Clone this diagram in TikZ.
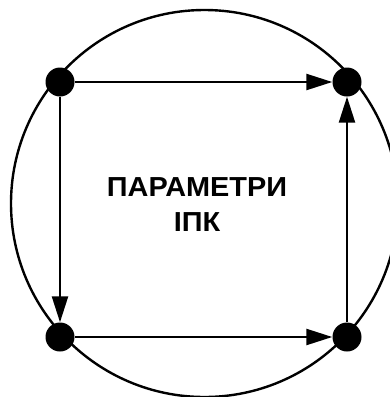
\documentclass[tikz,border=0pt]{standalone}
\usepackage{fontspec}
\newfontfamily\paramfont[FakeStretch=1.05]{Liberation Sans}
\usetikzlibrary{arrows.meta}
\tikzset{
  pdot/.style={circle, fill=black, draw=none, minimum size=29pt, inner sep=0pt},
  pedge/.style={-{Triangle[length=26pt, width=16pt]}, line width=2.4pt, draw=black},
  pring/.style={line width=2.4pt, draw=black},
  plabel/.style={align=center, font=\paramfont\bfseries\fontsize{27.5}{35}\selectfont, inner sep=0pt}
}

\begin{document}
\begin{tikzpicture}[x=1pt, y=-1pt]
  \useasboundingbox (0,0) rectangle (390,397);
  \coordinate (c) at (204.5,203.5);
  \draw[pring] (c) circle[radius=193.5];

  \node[pdot] (tl) at (60,82) {};
  \node[pdot] (tr) at (347,82) {};
  \node[pdot] (bl) at (60,337) {};
  \node[pdot] (br) at (347,337) {};

  \draw[pedge] (tl) -- (tr);
  \draw[pedge] (tl) -- (bl);
  \draw[pedge] (bl) -- (br);
  \draw[pedge] (br) -- (tr);

  \node[plabel] (lbl) at (197,205) {ПАРАМЕТРИ\\ІПК};
\end{tikzpicture}
\end{document}
